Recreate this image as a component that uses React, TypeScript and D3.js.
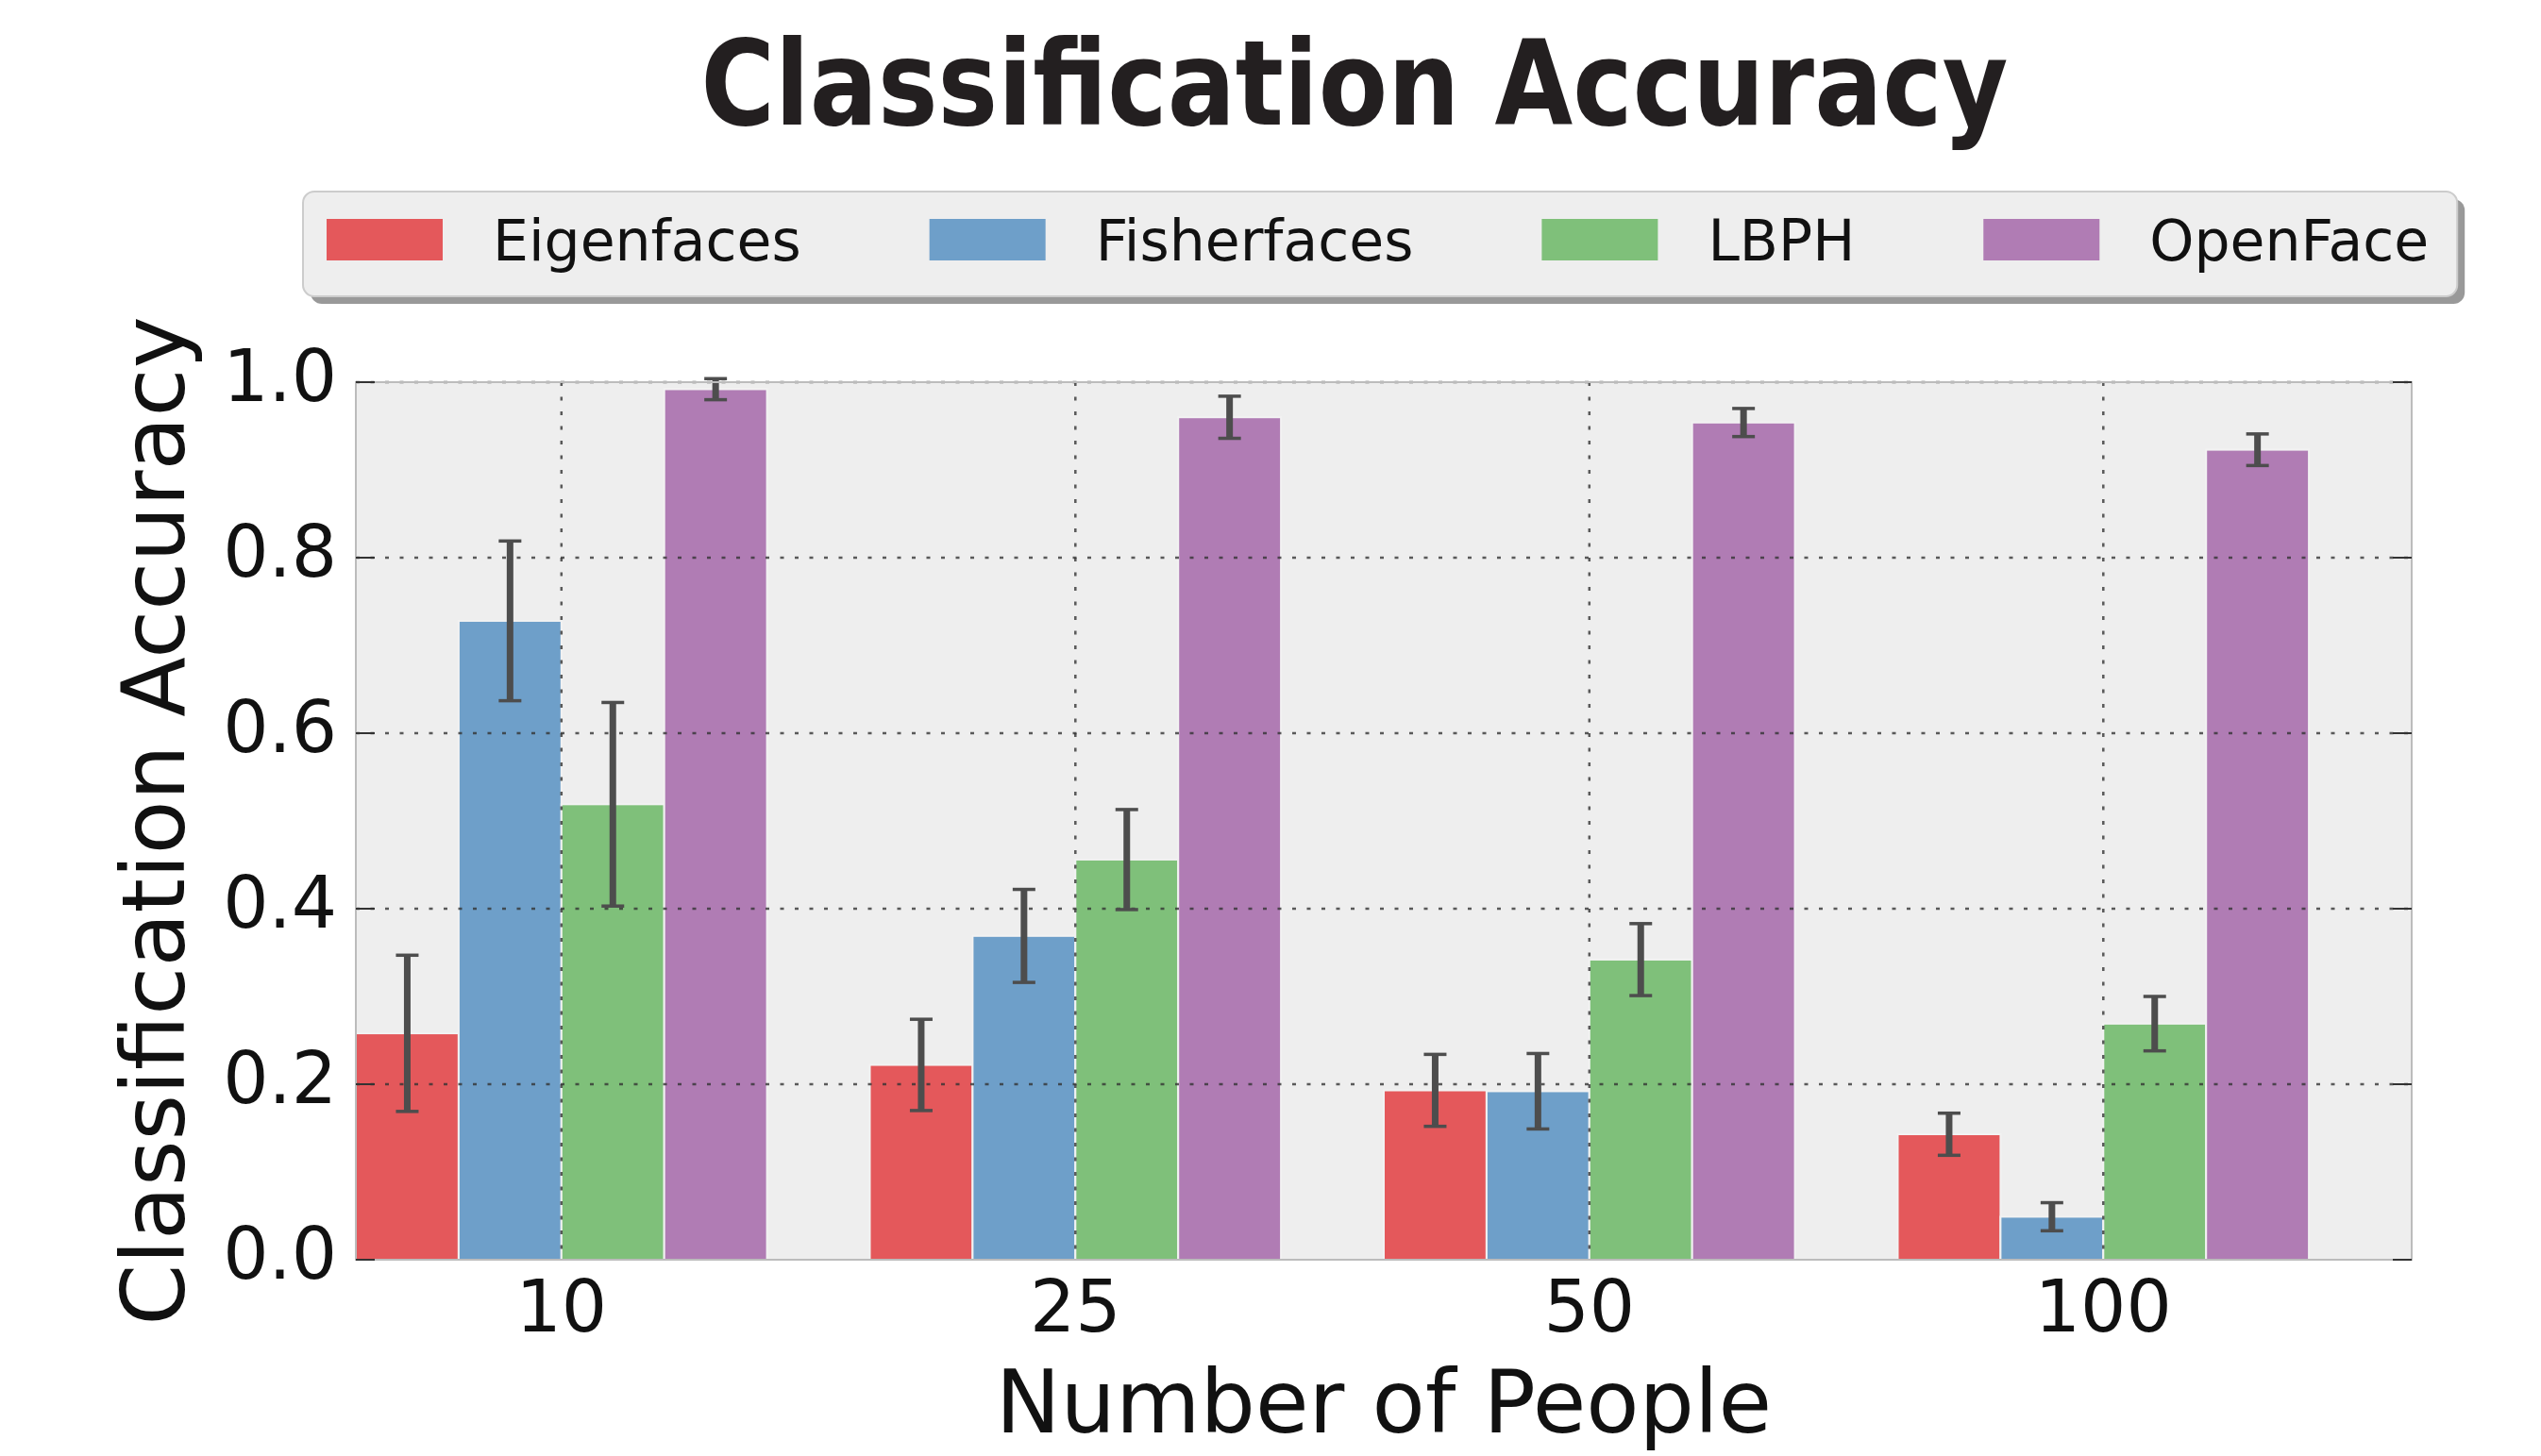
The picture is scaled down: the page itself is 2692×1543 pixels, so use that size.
import React, { useEffect, useRef } from 'react';
import * as d3 from 'd3';

const groups = ["10", "25", "50", "100"];
const methods = ["Eigenfaces", "Fisherfaces", "LBPH", "OpenFace"];
const colors = ["#e4585b", "#6e9fc9", "#7fc07a", "#b07cb4"];

const eigenfaces = [0.258, 0.222, 0.193, 0.143];
const eigenfacesErr = [0.089, 0.052, 0.041, 0.024];
const fisherfaces = [0.728, 0.369, 0.192, 0.049];
const fisherfacesErr = [0.091, 0.053, 0.043, 0.016];
const lbph = [0.519, 0.456, 0.342, 0.269];
const lbphErr = [0.116, 0.057, 0.041, 0.031];
const openface = [0.992, 0.960, 0.954, 0.923];
const openfaceErr = [0.012, 0.024, 0.016, 0.018];

const yTicks = [0.0, 0.2, 0.4, 0.6, 0.8, 1.0];

const W = 2692;
const H = 1543;
const FONT = "'DejaVu Sans', sans-serif";

function App() {
    const ref = useRef(null);

    useEffect(() => {
        const svg = d3.select(ref.current);
        svg.selectAll("*").remove();

        const left = 377, right = 2555, top = 405, bottom = 1335;
        const barW = 0.2;
        const values = [eigenfaces, fisherfaces, lbph, openface];
        const errs = [eigenfacesErr, fisherfacesErr, lbphErr, openfaceErr];

        const x = d3.scaleLinear().domain([0, groups.length]).range([left, right]);
        const y = d3.scaleLinear().domain([0, 1]).range([bottom, top]);

        svg.append("rect").attr("width", W).attr("height", H).attr("fill", "#ffffff");

        // axes background
        svg.append("rect")
            .attr("x", left).attr("y", top)
            .attr("width", right - left).attr("height", bottom - top)
            .attr("fill", "#eeeeee");

        // bars
        values.forEach((vals, j) => {
            svg.append("g").selectAll("rect").data(vals).join("rect")
                .attr("x", (d, i) => x(i + j * barW))
                .attr("y", d => y(d))
                .attr("width", x(barW) - x(0))
                .attr("height", d => y(0) - y(d))
                .attr("fill", colors[j])
                .attr("stroke", "#f2f2f2")
                .attr("stroke-width", 2);
        });

        // grid, drawn over the bars
        const grid = svg.append("g")
            .attr("stroke", "#333")
            .attr("stroke-opacity", 0.8)
            .attr("stroke-width", 2.5)
            .attr("stroke-dasharray", "4 11.5");
        grid.selectAll("line.h").data(yTicks.filter(t => t > 0)).join("line")
            .attr("class", "h")
            .attr("x1", left).attr("x2", right)
            .attr("y1", d => y(d)).attr("y2", d => y(d));
        grid.selectAll("line.v").data(groups).join("line")
            .attr("class", "v")
            .attr("x1", (d, i) => x(i + 2 * barW)).attr("x2", (d, i) => x(i + 2 * barW))
            .attr("y1", top).attr("y2", bottom);

        // error bars
        values.forEach((vals, j) => {
            const g = svg.append("g").attr("stroke", "#4d4d4d");
            vals.forEach((v, i) => {
                const cx = x(i + j * barW + barW / 2);
                const e = errs[j][i];
                g.append("line")
                    .attr("x1", cx).attr("x2", cx)
                    .attr("y1", y(v - e)).attr("y2", y(v + e))
                    .attr("stroke-width", 7);
                [v - e, v + e].forEach(c => {
                    g.append("line")
                        .attr("x1", cx - 12).attr("x2", cx + 12)
                        .attr("y1", y(c)).attr("y2", y(c))
                        .attr("stroke-width", 3.5);
                });
            });
        });

        // spines
        svg.append("rect")
            .attr("x", left).attr("y", top)
            .attr("width", right - left).attr("height", bottom - top)
            .attr("fill", "none")
            .attr("stroke", "#bcbcbc")
            .attr("stroke-width", 2);

        // y ticks (inside, both sides)
        const ticks = svg.append("g").attr("stroke", "#333").attr("stroke-width", 2);
        yTicks.forEach(t => {
            ticks.append("line").attr("x1", left).attr("x2", left + 20).attr("y1", y(t)).attr("y2", y(t));
            ticks.append("line").attr("x1", right - 20).attr("x2", right).attr("y1", y(t)).attr("y2", y(t));
        });

        // y tick labels
        svg.append("g").selectAll("text").data(yTicks).join("text")
            .attr("x", left - 20)
            .attr("y", d => y(d) + 20)
            .attr("text-anchor", "end")
            .attr("font-family", FONT)
            .attr("font-size", 76)
            .attr("fill", "#111")
            .text(d => d.toFixed(1));

        // x tick labels
        svg.append("g").selectAll("text").data(groups).join("text")
            .attr("x", (d, i) => x(i + 2 * barW))
            .attr("y", 1411)
            .attr("text-anchor", "middle")
            .attr("font-family", FONT)
            .attr("font-size", 76)
            .attr("fill", "#111")
            .text(d => d);

        // axis labels
        svg.append("text")
            .attr("x", (left + right) / 2)
            .attr("y", 1518)
            .attr("text-anchor", "middle")
            .attr("font-family", FONT)
            .attr("font-size", 92)
            .attr("fill", "#111")
            .text("Number of People");

        svg.append("text")
            .attr("transform", `translate(195, ${(top + bottom) / 2}) rotate(-90)`)
            .attr("text-anchor", "middle")
            .attr("font-family", FONT)
            .attr("font-size", 93)
            .attr("fill", "#111")
            .text("Classification Accuracy");

        // title
        svg.append("text")
            .attr("x", 1435)
            .attr("y", 132)
            .attr("text-anchor", "middle")
            .attr("font-family", FONT)
            .attr("font-weight", "bold")
            .attr("font-size", 125)
            .attr("textLength", 1385)
            .attr("lengthAdjust", "spacingAndGlyphs")
            .attr("fill", "#231f20")
            .text("Classification Accuracy");

        // legend
        const legFont = 60;
        const ctx = document.createElement("canvas").getContext("2d");
        ctx.font = `${legFont}px ${FONT}`;
        const legLeft = 321, legTop = 203, legH = 111;
        const patchW = 123, patchH = 44, textGap = 176, colGap = 136;
        const items = [];
        let cx = legLeft + 25;
        methods.forEach((m, j) => {
            items.push({ m, j, x: cx });
            cx += textGap + ctx.measureText(m).width + colGap;
        });
        const legRight = cx - colGap + 30;

        const leg = svg.append("g");
        leg.append("rect")
            .attr("x", legLeft + 8).attr("y", legTop + 8)
            .attr("width", legRight - legLeft).attr("height", legH)
            .attr("rx", 12)
            .attr("fill", "#999");
        leg.append("rect")
            .attr("x", legLeft).attr("y", legTop)
            .attr("width", legRight - legLeft).attr("height", legH)
            .attr("rx", 12)
            .attr("fill", "#eeeeee")
            .attr("stroke", "#cccccc")
            .attr("stroke-width", 2);
        items.forEach(it => {
            leg.append("rect")
                .attr("x", it.x).attr("y", 232)
                .attr("width", patchW).attr("height", patchH)
                .attr("fill", colors[it.j]);
            leg.append("text")
                .attr("x", it.x + textGap)
                .attr("y", 276)
                .attr("font-family", FONT)
                .attr("font-size", legFont)
                .attr("fill", "#111")
                .text(it.m);
        });
    }, []);

    return (
        <svg ref={ref} width={W} height={H}
            style={{ position: "absolute", left: 0, top: 0, display: "block" }}></svg>
    );
}

export default App;
